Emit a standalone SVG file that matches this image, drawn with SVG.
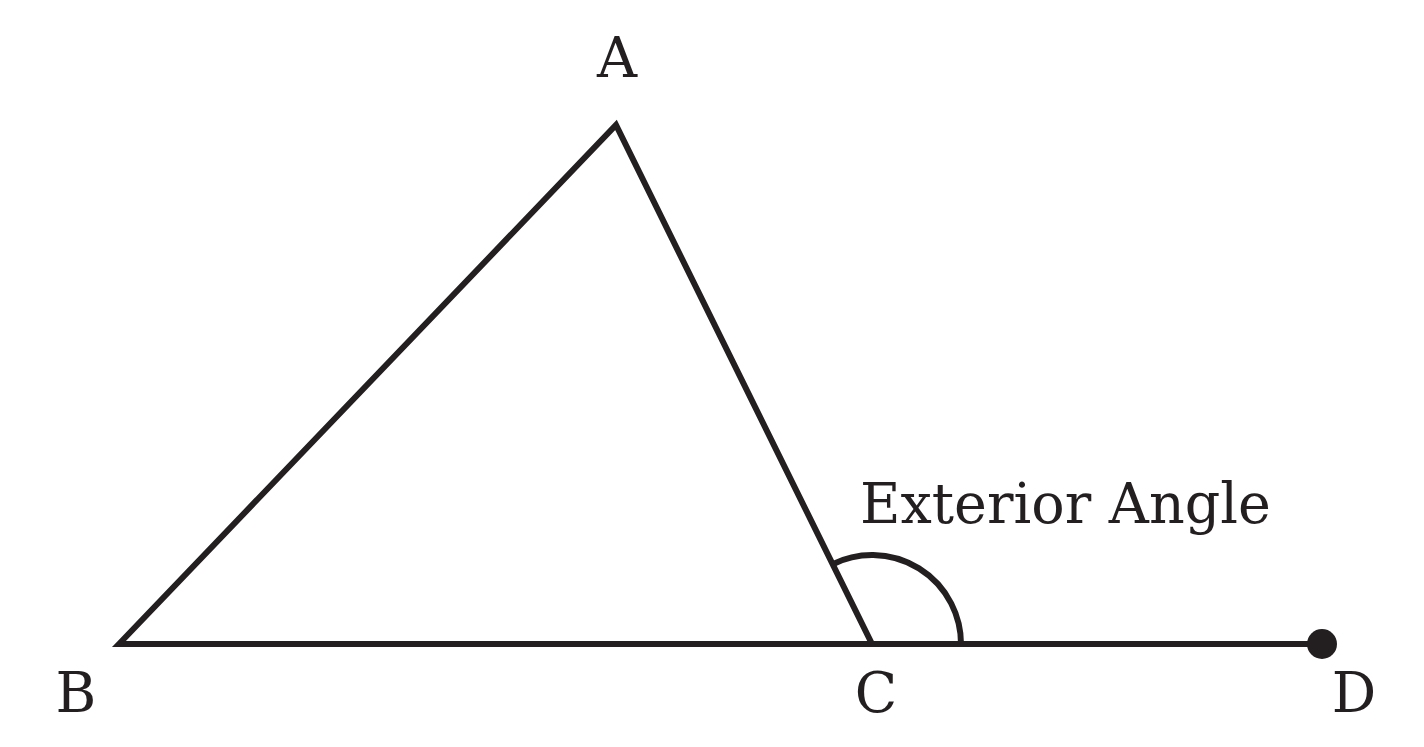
<svg xmlns="http://www.w3.org/2000/svg" width="1424" height="747" viewBox="0 0 1424 747">
<style>
.ln{fill:none;stroke:#231f20;stroke-width:6;stroke-linejoin:miter;stroke-miterlimit:10}
.lb{font-family:"DejaVu Serif","Liberation Serif",serif;font-size:55.5px;fill:#231f20}
</style>
<rect width="1424" height="747" fill="#fff"/>
<g id="connectors">
<path id="triangle" class="ln" d="M 119 644 L 616 125 L 872 644 Z"/>
<line id="ray-CD" class="ln" x1="872" y1="644" x2="1322" y2="644"/>
<path id="exterior-arc" class="ln" d="M 961 644 A 89 89 0 0 0 832.6 564.2"/>
</g>
<g id="node-A"><text class="lb" x="617" y="77" text-anchor="middle">A</text></g>
<g id="node-B"><text class="lb" x="76" y="712" text-anchor="middle">B</text></g>
<g id="node-C"><text class="lb" x="876" y="712" text-anchor="middle">C</text></g>
<g id="node-D"><circle cx="1322" cy="644" r="15" fill="#231f20"/><text class="lb" x="1354" y="712" text-anchor="middle">D</text></g>
<g id="label-exterior"><text class="lb" x="860" y="523">Exterior Angle</text></g>
</svg>
